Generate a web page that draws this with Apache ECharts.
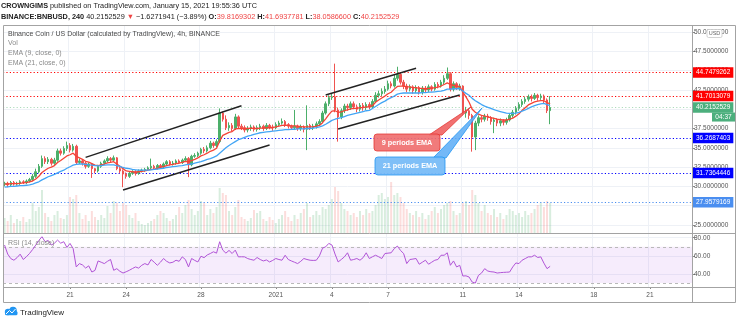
<!DOCTYPE html>
<html><head><meta charset="utf-8">
<script src="https://cdn.jsdelivr.net/npm/echarts@6/dist/echarts.min.js"></script>
<style>html,body{margin:0;padding:0;background:#fff}#c{width:740px;height:324px}</style>
</head><body><div id="c"></div>
<script>
// ---------------- DATA (4h candles, BINANCE:BNBUSD, from 2020-12-17 12:00) ----------------
const opens = [
30.3,30.4,30.2,30.5,30.3,30.4,30.6,30.5,30.7,30.9,
31.3,31.9,32.6,33.6,33.2,33.5,33.0,33.4,34.6,34.3,
34.9,35.3,34.7,35.2,33.1,33.3,33.0,32.6,32.9,32.3,
32.0,32.6,33.0,33.3,33.6,33.4,33.7,32.3,32.0,31.6,
31.3,31.7,31.9,31.7,32.0,32.1,32.2,32.4,32.6,32.4,
32.7,32.5,32.9,33.2,32.9,33.0,33.3,33.1,33.4,33.6,
32.8,33.9,34.0,34.3,34.8,34.6,35.0,35.6,35.3,35.8,
39.5,38.7,37.6,37.9,37.5,39.0,37.8,37.6,37.3,37.5,
37.7,37.4,37.6,37.8,37.5,37.9,37.7,37.6,38.0,38.2,
38.4,38.0,37.8,37.6,37.8,37.5,37.7,37.4,37.9,37.6,
37.8,38.1,38.4,39.5,40.7,41.5,41.6,39.9,39.0,39.8,
40.4,40.2,40.7,40.3,40.0,40.5,40.2,40.6,40.3,41.0,
41.8,42.0,42.3,42.6,43.3,43.0,44.0,44.5,43.5,43.0,
42.6,42.9,42.4,42.8,42.2,42.7,42.5,42.9,42.6,43.2,
43.0,43.5,44.0,44.6,42.6,43.3,42.8,43.0,39.5,39.8,
39.2,36.4,38.2,38.9,38.7,39.1,38.9,38.4,38.6,38.2,
38.5,38.3,38.6,39.2,39.6,40.1,40.6,41.0,41.3,41.6,
41.4,41.8,41.5,41.7,41.2,39.8169302];
const closes = [
30.4,30.2,30.5,30.3,30.4,30.6,30.5,30.7,30.9,31.3,
31.9,32.6,33.6,33.2,33.5,33.0,33.4,34.6,34.3,34.9,
35.3,34.7,35.2,33.1,33.3,33.0,32.6,32.9,32.3,32.0,
32.6,33.0,33.3,33.6,33.4,33.7,32.3,32.0,31.6,31.3,
31.7,31.9,31.7,32.0,32.1,32.2,32.4,32.6,32.4,32.7,
32.5,32.9,33.2,32.9,33.0,33.3,33.1,33.4,33.6,32.8,
33.9,34.0,34.3,34.8,34.6,35.0,35.6,35.3,35.8,39.5,
38.7,37.6,37.9,37.5,39.0,37.8,37.6,37.3,37.5,37.7,
37.4,37.6,37.8,37.5,37.9,37.7,37.6,38.0,38.2,38.4,
38.0,37.8,37.6,37.8,37.5,37.7,37.4,37.9,37.6,37.8,
38.1,38.4,39.5,40.7,41.5,41.6,39.9,39.0,39.8,40.4,
40.2,40.7,40.3,40.0,40.5,40.2,40.6,40.3,41.0,41.8,
42.0,42.3,42.6,43.3,43.0,44.0,44.5,43.5,43.0,42.6,
42.9,42.4,42.8,42.2,42.7,42.5,42.9,42.6,43.2,43.0,
43.5,44.0,44.6,42.6,43.3,42.8,43.0,39.5,39.8,39.2,
36.4,38.2,38.9,38.7,39.1,38.9,38.4,38.6,38.2,38.5,
38.3,38.6,39.2,39.6,40.1,40.6,41.0,41.3,41.6,41.4,
41.8,41.5,41.7,41.2,39.8169302,40.2152529];
const lows = [
30.0,29.9,30.0,30.1,30.1,30.2,30.3,30.3,30.5,30.7,
31.1,31.7,32.4,32.9,32.9,32.7,32.8,33.2,34.0,34.1,
34.6,34.4,34.5,32.8,32.9,32.7,32.3,32.4,31.1,31.7,
31.8,32.4,32.8,33.1,33.1,33.2,32.1,31.7,29.9,31.0,
31.1,31.5,31.4,31.5,31.8,31.9,32.0,32.2,32.2,32.2,
32.3,32.3,32.7,32.7,32.7,32.8,32.9,32.9,33.2,31.2,
32.6,33.7,33.8,34.1,34.3,34.4,34.8,35.0,35.1,35.6,
38.4,37.3,37.2,37.1,37.3,37.5,37.3,37.0,37.0,37.2,
37.1,37.1,37.3,37.2,37.3,37.4,37.2,37.4,37.8,38.0,
37.7,37.5,37.3,37.3,37.2,37.2,37.0,34.7,37.3,37.3,
37.5,37.9,38.2,39.3,40.4,41.2,39.6,35.8,38.7,39.5,
39.8,39.9,40.0,39.6,39.7,39.8,39.9,40.0,40.1,40.8,
41.5,41.7,42.0,42.4,42.7,42.8,43.7,43.2,42.6,42.2,
42.3,42.0,42.1,41.9,41.9,42.1,42.2,42.3,42.4,42.7,
42.8,43.2,43.8,42.3,42.3,42.5,42.4,39.2,38.9,38.7,
34.5,34.7,37.8,38.3,38.4,38.5,38.0,36.9,37.8,37.8,
37.9,38.0,38.4,38.9,39.3,39.8,40.3,40.7,41.0,41.0,
41.2,41.1,41.2,40.8,39.5,38.05866];
const highs = [
30.6,30.6,30.7,30.7,30.6,30.8,30.8,30.9,31.1,31.6,
32.3,32.9,34.0,33.9,33.8,33.7,33.7,34.9,34.9,35.2,
35.8,35.6,35.5,35.4,33.6,33.5,33.2,33.1,33.0,32.4,
32.8,33.2,33.5,33.9,33.8,34.0,33.8,32.5,32.2,31.8,
31.9,32.1,32.1,32.2,32.3,32.4,32.6,33.6,32.8,32.9,
32.9,33.1,33.4,33.4,33.3,33.5,33.5,33.6,33.9,33.8,
34.1,34.3,34.5,35.0,35.1,35.3,35.9,35.8,36.1,40.1,
39.7,39.2,38.3,38.2,39.4,39.2,38.1,37.9,37.8,38.0,
37.9,37.9,38.1,38.0,38.2,38.1,38.0,38.3,38.5,38.8,
38.6,38.2,38.0,39.9,38.0,38.0,37.9,40.5,38.1,38.1,
38.4,38.7,39.8,41.0,41.8,42.0,45.9,40.2,40.1,40.7,
40.7,41.0,41.0,40.6,40.8,40.8,40.9,40.9,41.3,42.2,
42.4,42.7,43.0,43.7,43.6,44.5,45.5,44.8,43.8,43.3,
43.2,43.1,43.1,43.0,43.0,43.0,43.2,43.1,43.5,43.5,
43.8,44.4,45.4,44.8,43.6,43.5,43.3,43.1,40.3,40.1,
39.4,38.5,39.2,39.2,39.4,39.4,39.1,38.9,38.8,38.8,
38.7,38.9,39.5,39.9,40.4,40.9,41.3,41.6,41.9,41.9,
42.1,42.0,42.0,41.9,41.4,41.6937781];
const volumes = [
15,12,18,10,14,12,16,11,14,30,
22,26,43,20,16,12,18,22,15,14,
18,36,34,38,20,14,18,12,22,16,
13,18,15,27,20,32,30,22,30,28,
18,15,20,12,9,8,10,12,14,18,
22,20,15,12,14,18,26,20,28,33,
24,18,22,32,30,18,24,20,26,45,
40,38,22,18,26,33,16,14,12,15,
23,20,22,14,12,16,13,10,14,18,
22,16,12,18,14,20,24,30,16,18,
22,18,26,24,28,34,46,42,30,24,
22,18,20,16,22,18,24,20,22,28,
38,40,34,36,51,38,40,36,30,24,
20,18,22,16,20,14,18,22,26,20,
24,28,30,32,22,18,20,30,32,28,
43,38,30,22,28,20,18,24,16,20,
14,18,24,22,18,20,16,22,18,20,
24,28,30,26,32,30];
const ema9 = [
30.3,30.3,30.35,30.35,30.35,30.4,30.45,30.5,30.6,30.7,
30.95,31.3,31.8,32.1,32.35,32.5,32.7,33.1,33.35,33.65,
33.95,34.1,34.3,33.9,33.7,33.5,33.25,33.15,32.95,32.75,
32.7,32.8,32.9,33.05,33.1,33.2,32.9,32.6,32.3,32.0,
31.95,31.9,31.85,31.9,31.95,32.0,32.1,32.2,32.25,32.35,
32.45,32.55,32.7,32.8,32.85,32.95,33.0,33.1,33.25,33.2,
33.35,33.5,33.7,33.95,34.1,34.3,34.55,34.7,34.95,35.9,
36.6,36.8,37.0,37.1,37.45,37.5,37.5,37.5,37.5,37.55,
37.5,37.5,37.55,37.55,37.6,37.6,37.6,37.7,37.8,37.9,
37.95,37.9,37.85,37.85,37.8,37.75,37.7,37.7,37.7,37.7,
37.8,37.9,38.25,38.75,39.3,39.75,39.8,39.6,39.65,39.8,
39.9,40.05,40.1,40.1,40.2,40.2,40.3,40.3,40.45,40.9,
41.2,41.45,41.7,42.0,42.2,42.6,42.95,43.0,43.0,42.9,
42.9,42.8,42.8,42.7,42.7,42.65,42.7,42.7,42.8,42.85,
43.0,43.2,43.4,43.2,43.1,43.0,42.95,42.2,41.6,40.9,
40.0,39.6,39.35,39.2,39.1,39.0,38.9,38.8,38.7,38.65,
38.6,38.6,38.7,38.85,39.1,39.4,39.85,40.2,40.55,40.75,
40.95,41.05,41.1,41.1,40.85,40.7];
const ema21 = [
29.9,29.95,30.0,30.0,30.05,30.1,30.1,30.15,30.2,30.3,
30.45,30.6,30.85,31.05,31.25,31.4,31.55,31.75,31.95,32.1,
32.35,32.55,32.75,32.85,32.9,32.9,32.85,32.8,32.75,32.7,
32.65,32.7,32.75,32.8,32.8,32.8,32.7,32.6,32.45,32.35,
32.3,32.2,32.15,32.1,32.1,32.1,32.1,32.15,32.2,32.25,
32.3,32.35,32.45,32.5,32.55,32.6,32.65,32.7,32.8,32.85,
32.9,33.0,33.1,33.2,33.35,33.5,33.6,33.75,33.95,34.3,
34.65,35.0,35.3,35.55,35.8,36.05,36.2,36.35,36.5,36.6,
36.75,36.85,36.95,37.0,37.05,37.1,37.15,37.2,37.25,37.3,
37.35,37.35,37.4,37.4,37.45,37.45,37.45,37.5,37.5,37.55,
37.6,37.7,37.85,38.05,38.3,38.55,38.7,38.8,38.9,39.05,
39.2,39.3,39.4,39.5,39.6,39.7,39.8,39.85,40.1,40.35,
40.6,40.85,41.05,41.3,41.5,41.7,41.95,42.05,42.1,42.1,
42.1,42.1,42.1,42.1,42.15,42.15,42.2,42.2,42.25,42.3,
42.35,42.45,42.6,42.6,42.65,42.65,42.65,42.35,42.05,41.8,
41.4,41.1,40.85,40.6,40.4,40.25,40.1,39.95,39.8,39.7,
39.6,39.5,39.45,39.45,39.5,39.6,39.75,39.9,40.1,40.3,
40.45,40.6,40.7,40.75,40.6,40.45];
const rsi14 = [
71.9,62,57,55.2,58,61.9,56,59,62.6,67,
71.9,77,81.1,75.6,77,71.9,74,77.4,74,75.6,
69.3,73.7,68,47.8,51.5,50,46.6,49,42.2,44,
54.4,53,51.5,54,56,44.1,45.9,43,41.1,42.5,
44.1,46,47.8,46.5,49.6,51.5,50,56,53,49.6,
53,57.1,54,52.2,53,55.2,54,58.9,56,47.8,
57.1,55,53.3,59.6,58,61,62.6,64.5,63,75.6,
66.3,63,66,62.6,66.3,58.9,59,58.9,57,56,
55.2,58.2,56,54.4,55.5,53.3,55,57.1,56,55.2,
60.7,56,54.4,53,51.5,54,57.1,56,55.2,55,
55.2,60,68.5,70,73.7,72,62,53.3,56,58.9,
63.4,55.2,56,57.1,55.2,58,63.4,57.1,59,60.7,
59,57.1,62.6,63,63.4,68,70.8,66,62.6,51.5,
56,56.5,57.1,50.8,53,55.2,50.8,53,55.2,56,
60.7,60.7,63.4,49.6,54.4,47.8,49.6,37.8,38,36.7,
31.1,30,38.5,41.1,45.9,43.3,42.5,42.2,41.1,41.5,
41.8,42,42.2,47.8,52.2,51.5,55.2,57,58.9,58.9,
60.7,58.2,58.9,52,45.9,48.5];
// horizontal support / resistance levels
const priceLevels = [44.7479262, 41.7013079, 36.2687403, 31.7364446, 27.9579169];
// trend channel lines: [candle index, price]
const trendLines = [
  [[26.4, 33.77], [75.8, 40.45]],
  [[38.1, 29.53], [84.5, 35.36]],
  [[102.8, 41.84], [131.6, 45.30]],
  [[107.3, 37.44], [145.9, 41.84]]
];
const tickDays = ['2020-12-21','2020-12-24','2020-12-28','2021-01-01','2021-01-04','2021-01-07','2021-01-11','2021-01-14','2021-01-18','2021-01-21'];
const tickLabels = ['21','24','28','2021','4','7','11','14','18','21'];
const priceTicks = [25, 50, 2.5];
const rsiTicks = [40, 60, 80];

// ---------------- time slots ----------------
const START = Date.UTC(2020, 11, 17, 12);
const SLOTS = 221;
const categories = [];
for (let k = 0; k < SLOTS; k++) categories.push(new Date(START + k * 4 * 3600e3).toISOString().slice(0, 13));
const tickMap = {};
tickDays.forEach((d, k) => { tickMap[d + 'T00'] = tickLabels[k]; });
const isTick = (idx, val) => tickMap[val] !== undefined;

// ---------------- styles ----------------
const FONT = '"Liberation Sans", Arial, sans-serif';
const UP = '#4caf6a', DOWN = '#ef5350';
const levelColors = ['#ff0000', '#ff0000', '#0000ff', '#0000ff', '#4a8ef0'];
const GRIDC = '#eef1f6', BORDER = '#a3a3a3';
const L = 3, R = 48;

const candleData = closes.map((c, i) => [opens[i], c, lows[i], highs[i]]);
const volData = volumes.map((v, i) => ({ value: v, itemStyle: { color: closes[i] >= opens[i] ? 'rgba(76,175,106,0.22)' : 'rgba(239,83,80,0.20)' } }));
const lastPrice = closes[closes.length - 1];

const chart = echarts.init(document.getElementById('c'), null, { renderer: 'canvas' });

function txt(x, y, text, size, color, extra, z) {
  return { type: 'text', silent: true, z: z || 100, style: Object.assign({ x, y, text, fill: color, font: size + 'px ' + FONT, verticalAlign: 'middle' }, extra || {}) };
}
function line(x1, y1, x2, y2) {
  return { type: 'line', silent: true, z: 90, shape: { x1, y1, x2, y2 }, style: { stroke: BORDER, lineWidth: 1 } };
}
const HF = 7.3;

const graphics = [
  // frame
  line(3.5, 25.5, 735.5, 25.5), line(3.5, 25.5, 3.5, 302.5), line(735.5, 25.5, 735.5, 302.5),
  line(3.5, 302.5, 735.5, 302.5), line(692.5, 25.5, 692.5, 302.5),
  line(3.5, 233.5, 735.5, 233.5), line(3.5, 287.5, 735.5, 287.5),
  // header
  { type: 'text', silent: true, z: 100, style: { x: 1, y: 6, verticalAlign: 'middle', fill: '#222', font: HF + 'px ' + FONT,
    text: '{b|CROWNGIMS} published on TradingView.com, January 15, 2021 19:55:36 UTC',
    rich: { b: { font: 'bold ' + HF + 'px ' + FONT, fill: '#222' } } } },
  { type: 'text', silent: true, z: 100, style: { x: 1, y: 17, verticalAlign: 'middle', fill: '#222', font: HF + 'px ' + FONT,
    text: '{b|BINANCE:BNBUSD, 240} 40.2152529 {r|▼} −1.6271941 (−3.89%) {b|O:}{r|39.8169302} {b|H:}{r|41.6937781} {b|L:}{r|38.0586600} {b|C:}{r|40.2152529}',
    rich: { b: { font: 'bold ' + HF + 'px ' + FONT, fill: '#222' }, r: { font: HF + 'px ' + FONT, fill: '#ef4444' } } } },
  // legends
  txt(8, 34.5, 'Binance Coin / US Dollar (calculated by TradingView), 4h, BINANCE', 7, '#4a4a4a'),
  txt(8, 43.5, 'Vol', 7, '#8a8a8a'),
  txt(8, 53, 'EMA (9, close, 0)', 7, '#8a8a8a'),
  txt(8, 63, 'EMA (21, close, 0)', 7, '#8a8a8a'),
  txt(8, 243, 'RSI (14, close)', 7, '#8a8a8a'),
  // USD badge
  { type: 'rect', silent: true, z: 110, shape: { x: 707, y: 29.5, width: 15, height: 8, r: 1.5 }, style: { fill: '#fff', stroke: '#c8c8c8', lineWidth: 0.8 } },
  txt(714.5, 33.7, 'USD', 5.5, '#666', { align: 'center' }, 111),
  // callout: 9 periods EMA
  { type: 'polygon', silent: true, z: 95, shape: { points: [[429, 135], [442, 135], [471, 107]] }, style: { fill: 'rgba(240,98,98,0.9)', stroke: '#e53935', lineWidth: 0.8 } },
  { type: 'rect', silent: true, z: 96, shape: { x: 374, y: 134, width: 66, height: 17, r: 3 }, style: { fill: 'rgba(240,112,112,0.92)', stroke: '#e53935', lineWidth: 0.8 } },
  txt(407, 142.7, '9 periods EMA', 7.3, '#fff', { align: 'center', font: 'bold 7.3px ' + FONT }, 97),
  // callout: 21 periods EMA
  { type: 'polygon', silent: true, z: 95, shape: { points: [[433, 158], [446, 158], [482, 108]] }, style: { fill: 'rgba(100,176,246,0.9)', stroke: '#2196f3', lineWidth: 0.8 } },
  { type: 'rect', silent: true, z: 96, shape: { x: 375, y: 157, width: 70, height: 18, r: 3 }, style: { fill: 'rgba(120,188,247,0.95)', stroke: '#2196f3', lineWidth: 0.8 } },
  txt(410, 166.2, '21 periods EMA', 7.3, '#fff', { align: 'center', font: 'bold 7.3px ' + FONT }, 97),
  // TradingView logo
  { type: 'circle', silent: true, z: 100, shape: { cx: 8, cy: 312, r: 3.2 }, style: { fill: '#2196f3' } },
  { type: 'circle', silent: true, z: 100, shape: { cx: 13, cy: 310.5, r: 3.8 }, style: { fill: '#2196f3' } },
  { type: 'rect', silent: true, z: 100, shape: { x: 5, y: 311, width: 12.5, height: 4.3, r: 1.5 }, style: { fill: '#2196f3' } },
  { type: 'polyline', silent: true, z: 101, shape: { points: [[6, 314], [9.5, 310.5], [12, 313], [15.5, 309]] }, style: { stroke: '#fff', lineWidth: 1, fill: null } },
  txt(20, 312.5, 'TradingView', 8, '#222')
];

const option = {
  animation: false,
  textStyle: { fontFamily: FONT },
  grid: [
    { left: L, right: R, top: 32, height: 193 },
    { left: L, right: R, top: 25, height: 208 },
    { left: L, right: R, top: 233, height: 54 }
  ],
  xAxis: [
    { type: 'category', gridIndex: 0, data: categories, boundaryGap: true, show: false },
    { type: 'category', gridIndex: 1, data: categories, boundaryGap: true,
      axisLine: { show: false }, axisTick: { show: false }, axisLabel: { show: false },
      splitLine: { show: true, interval: isTick, lineStyle: { color: GRIDC, width: 1 } } },
    { type: 'category', gridIndex: 2, data: categories, boundaryGap: true,
      axisLine: { show: false },
      axisTick: { show: true, interval: isTick, length: 2, lineStyle: { color: '#888' }, alignWithLabel: true },
      axisLabel: { interval: isTick, formatter: v => tickMap[v] || '', fontSize: 6.5, color: '#555', margin: 5 },
      splitLine: { show: true, interval: isTick, lineStyle: { color: GRIDC, width: 1 } } }
  ],
  yAxis: [
    { type: 'value', gridIndex: 0, position: 'right', min: priceTicks[0], max: priceTicks[1], interval: priceTicks[2],
      axisLine: { show: false }, axisTick: { show: true, length: 3, lineStyle: { color: '#888' } },
      axisLabel: { formatter: v => v.toFixed(7), fontSize: 6.5, color: '#555', margin: 2 },
      splitLine: { lineStyle: { color: GRIDC } } },
    { type: 'value', gridIndex: 1, min: 0, max: 208, show: false, splitLine: { show: false } },
    { type: 'value', gridIndex: 2, position: 'right', min: 25.7, max: 85.2,
      axisLine: { show: false },
      axisTick: { show: true, length: 3, customValues: rsiTicks, lineStyle: { color: '#888' } },
      axisLabel: { customValues: rsiTicks, formatter: v => v.toFixed(2), fontSize: 6.5, color: '#555', margin: 2 },
      splitLine: { show: true, lineStyle: { color: GRIDC } } }
  ],
  series: [
    { type: 'bar', xAxisIndex: 1, yAxisIndex: 1, data: volData, barWidth: 2, z: 1, silent: true },
    { type: 'candlestick', xAxisIndex: 0, yAxisIndex: 0, data: candleData, barWidth: 2, z: 5,
      itemStyle: { color: UP, color0: DOWN, borderColor: UP, borderColor0: DOWN, borderWidth: 1 },
      markLine: { symbol: ['none', 'none'], silent: true, animation: false, z: 4,
        data: priceLevels.map((v, k) => ({ yAxis: v,
          lineStyle: { color: levelColors[k], type: [1.2, 2.2], width: 1, opacity: 1 },
          label: { show: true, position: 'end', distance: 1, formatter: v.toFixed(7), color: '#fff', backgroundColor: levelColors[k], fontSize: 6.5, padding: [2, 3, 1.5, 3] } }))
          .concat([{ yAxis: lastPrice, lineStyle: { color: 'rgba(76,175,106,0.45)', type: [1.2, 2.2], width: 1 },
            label: { show: true, position: 'end', distance: 1, formatter: lastPrice.toFixed(7), color: '#fff', backgroundColor: '#4caf7d', fontSize: 6.5, padding: [2, 3, 1.5, 3] } }]) } },
    { type: 'line', xAxisIndex: 0, yAxisIndex: 0, data: ema9, symbol: 'none', z: 6, lineStyle: { color: '#f44336', width: 1.3 } },
    { type: 'line', xAxisIndex: 0, yAxisIndex: 0, data: ema21, symbol: 'none', z: 6, lineStyle: { color: '#42a5f5', width: 1.3 } }
  ].concat(trendLines.map(seg => ({ type: 'line', xAxisIndex: 0, yAxisIndex: 0, data: seg, symbol: 'none', z: 7,
      lineStyle: { color: '#222', width: 1.4 } })))
   .concat([{ type: 'line', xAxisIndex: 2, yAxisIndex: 2, data: rsi14, symbol: 'none', z: 6,
      lineStyle: { color: '#b053d6', width: 1 },
      markArea: { silent: true, itemStyle: { color: 'rgba(171,71,230,0.10)' }, data: [[{ yAxis: 70 }, { yAxis: 30 }]] },
      markLine: { silent: true, symbol: ['none', 'none'], label: { show: false },
        lineStyle: { color: '#b9b9b9', type: [3, 3], width: 1 }, data: [{ yAxis: 70 }, { yAxis: 30 }] } }]),
  graphic: graphics
};
chart.setOption(option);

// countdown badge under the last-price label, placed through the price scale
const yLast = chart.convertToPixel({ yAxisIndex: 0 }, lastPrice);
chart.setOption({ graphic: graphics.concat([
  { type: 'rect', silent: true, z: 120, shape: { x: 712, y: yLast + 5, width: 23, height: 9 }, style: { fill: '#4caf7d' } },
  txt(723.5, yLast + 9.7, '04:37', 6.5, '#fff', { align: 'center' }, 121)
]) });
</script>
</body></html>
